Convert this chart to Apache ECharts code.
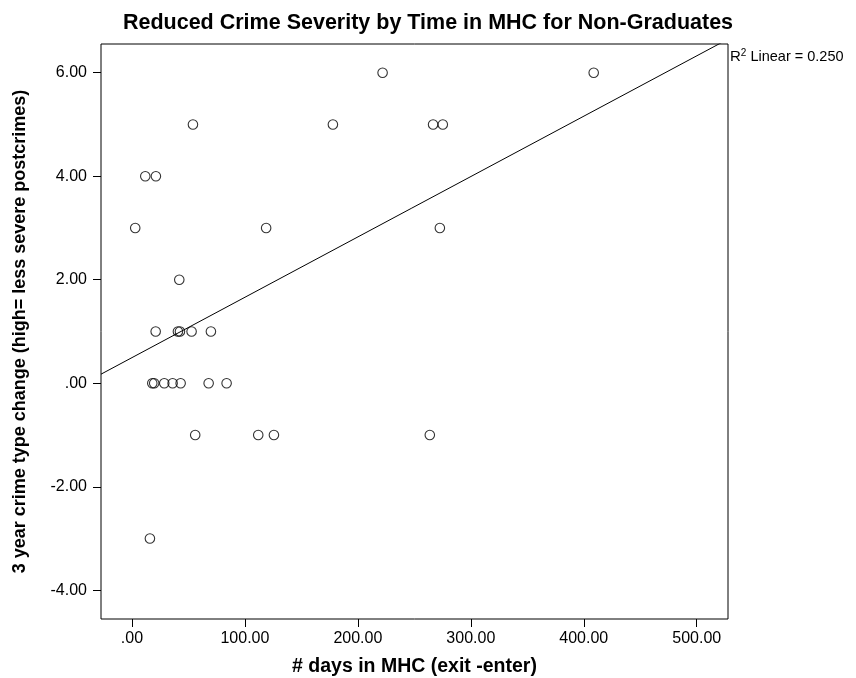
<!DOCTYPE html>
<html>
<head>
<meta charset="utf-8">
<script src="https://cdn.jsdelivr.net/npm/echarts@6/dist/echarts.min.js"></script>
<style>
  html, body { margin: 0; padding: 0; background: #fff; }
  #chart { width: 856px; height: 678px; }
</style>
</head>
<body>
<div id="chart"></div>
<script>
// ---- data ----
const daysInMHC = [221.9, 408.8, 54.0, 177.9, 266.6, 275.2, 11.8, 21.2, 2.9, 118.8, 272.6, 41.9,
                   21.0, 40.7, 42.5, 52.8, 69.9, 18.0, 19.7, 28.6, 36.0, 43.1, 67.9, 83.8,
                   56.0, 111.8, 125.7, 263.7, 15.9];
const crimeChange = [6, 6, 5, 5, 5, 5, 4, 4, 3, 3, 3, 2,
                     1, 1, 1, 1, 1, 0, 0, 0, 0, 0, 0, 0,
                     -1, -1, -1, -1, -3];
const xTickValues = [0, 100, 200, 300, 400, 500];
const yTickValues = [-4, -2, 0, 2, 4, 6];
const rSquaredText = '0.250';

const X_MIN = -27.4, X_MAX = 527.7;
const Y_MIN = -4.555, Y_MAX = 6.555;

// least-squares fit line computed from the data
const n = daysInMHC.length;
const mx = daysInMHC.reduce((a, b) => a + b, 0) / n;
const my = crimeChange.reduce((a, b) => a + b, 0) / n;
let sxy = 0, sxx = 0;
for (let i = 0; i < n; i++) {
  sxy += (daysInMHC[i] - mx) * (crimeChange[i] - my);
  sxx += (daysInMHC[i] - mx) * (daysInMHC[i] - mx);
}
const slope = sxy / sxx;
const intercept = my - slope * mx;
const fitLine = [[X_MIN, intercept + slope * X_MIN], [X_MAX, intercept + slope * X_MAX]];

const points = daysInMHC.map((x, i) => [x, crimeChange[i]]);

function fmt(v) {
  if (v === 0) return '.00';
  return v.toFixed(2);
}

const FONT = '"Liberation Sans", Arial, Helvetica, sans-serif';

const chart = echarts.init(document.getElementById('chart'), null, { renderer: 'canvas' });
chart.setOption({
  animation: false,
  backgroundColor: '#fff',
  textStyle: { fontFamily: FONT },
  title: {
    text: 'Reduced Crime Severity by Time in MHC for Non-Graduates',
    left: 'center',
    top: 7,
    textStyle: { fontFamily: FONT, fontSize: 21.5, fontWeight: 'bold', color: '#000' }
  },
  grid: {
    left: 101, right: 128, top: 44, bottom: 59,
    containLabel: false,
    outerBoundsMode: 'none',
    show: true, borderColor: '#000', borderWidth: 1, backgroundColor: 'transparent'
  },
  xAxis: {
    type: 'value',
    min: X_MIN, max: X_MAX,
    name: '# days in MHC (exit -enter)',
    nameLocation: 'middle',
    nameGap: 38,
    nameTextStyle: { fontFamily: FONT, fontSize: 19.5, fontWeight: 'bold', color: '#000' },
    axisLine: { show: false, onZero: false },
    axisTick: { show: true, inside: false, length: 8, lineStyle: { color: '#000', width: 1 }, customValues: xTickValues },
    axisLabel: { fontSize: 16, color: '#000', margin: 12, customValues: xTickValues, formatter: fmt },
    splitLine: { show: false }
  },
  yAxis: {
    type: 'value',
    min: Y_MIN, max: Y_MAX,
    name: '3 year crime type change (high= less severe postcrimes)',
    nameLocation: 'middle',
    nameGap: 72,
    nameTextStyle: { fontFamily: FONT, fontSize: 18, fontWeight: 'bold', color: '#000' },
    axisLine: { show: false, onZero: false },
    axisTick: { show: true, inside: false, length: 8, lineStyle: { color: '#000', width: 1 }, customValues: yTickValues },
    axisLabel: { fontSize: 16, color: '#000', margin: 14, customValues: yTickValues, formatter: fmt },
    splitLine: { show: false }
  },
  graphic: [{
    type: 'text',
    left: 730, top: 48,
    style: {
      text: '{r|R}{s|2}{t| Linear = ' + rSquaredText + '}',
      rich: {
        r: { fontFamily: FONT, fontSize: 15, fill: '#000', verticalAlign: 'bottom' },
        s: { fontFamily: FONT, fontSize: 10, fill: '#000', verticalAlign: 'top', padding: [0, 0, 6, 0] },
        t: { fontFamily: FONT, fontSize: 14.5, fill: '#000', verticalAlign: 'bottom' }
      }
    }
  }],
  series: [{
    type: 'scatter',
    data: points,
    symbol: 'circle',
    symbolSize: 9.5,
    itemStyle: { color: 'transparent', borderColor: '#000', borderWidth: 1.1 },
    z: 3
  }, {
    type: 'line',
    data: fitLine,
    clip: true,
    showSymbol: false,
    symbol: 'none',
    lineStyle: { color: '#000', width: 1 },
    z: 2
  }]
});
</script>
</body>
</html>
